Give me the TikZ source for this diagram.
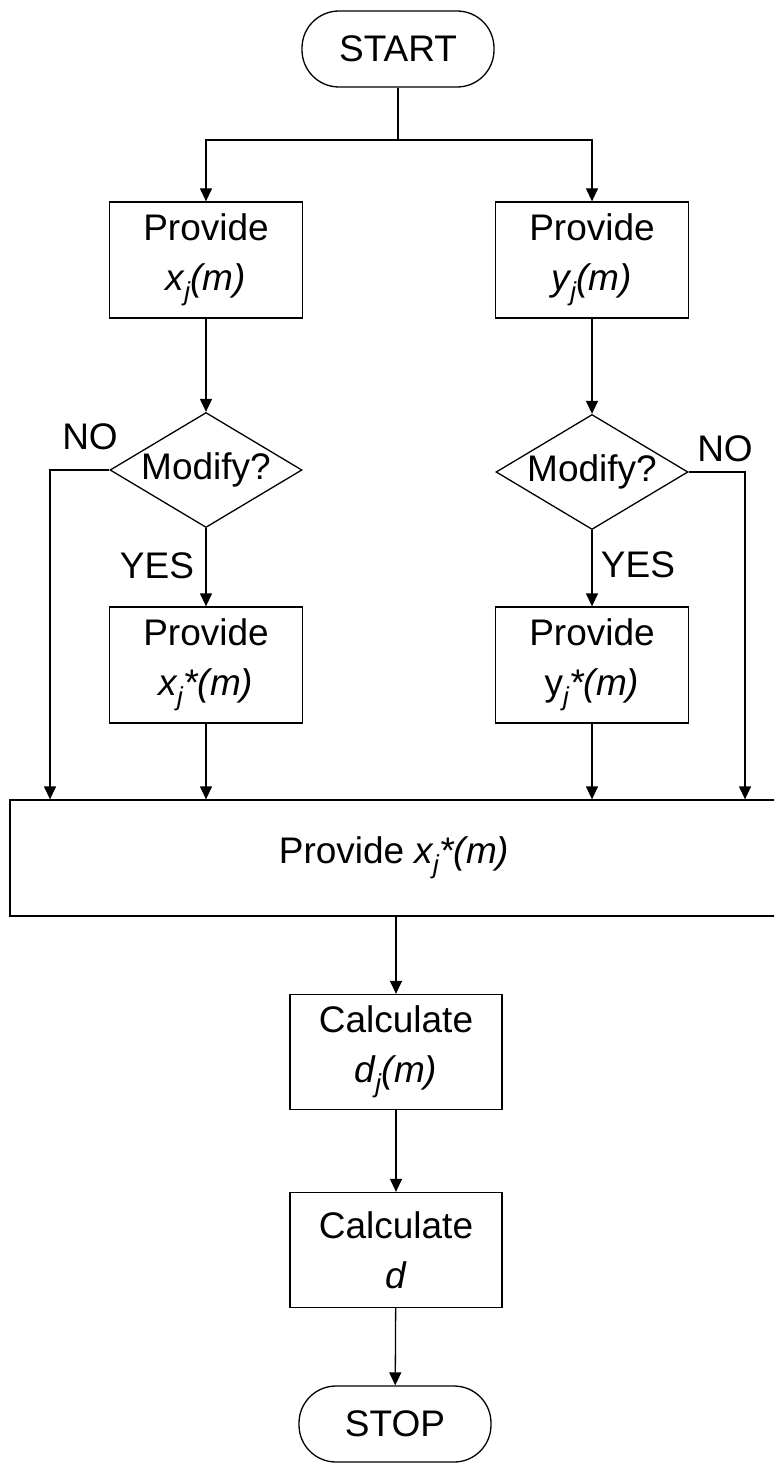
\documentclass[tikz,border=0pt]{standalone}
\usepackage{fontspec}
\setmainfont{Liberation Sans}
\usetikzlibrary{shapes.geometric,arrows.meta}

\tikzset{
    every node/.style={font=\fontsize{37}{50}\selectfont},
    terminal/.style={draw, rounded corners=37pt, minimum width=192pt, minimum height=76pt},
    procbox/.style={draw, align=center, minimum width=193pt, minimum height=116pt},
    calcbox/.style={draw, align=center, minimum width=212pt, minimum height=115pt},
    widebox/.style={draw, minimum width=768pt, minimum height=116pt},
    decision/.style={draw, diamond, inner sep=0pt, minimum width=192pt, minimum height=115pt},
}

\begin{document}
\begin{tikzpicture}[x=1pt, y=-1pt, line width=1.3pt,
        >={Triangle[length=13pt,width=12pt]}]
        \useasboundingbox (0,0) rectangle (774,1463);
        \clip (0,0) rectangle (774,1463);

        % ~~~~ Inicio ~~~~ %
        \node[terminal] (start) at (398,49) {START};
        \coordinate (split) at (398,140);

        % ~~~~ Ramas ~~~~ %
        \node[procbox] (provx) at (206,260) {Provide\\\textit{x\textsubscript{j}(m)}};
        \node[procbox] (provy) at (592,260) {Provide\\\textit{y\textsubscript{j}(m)}};
        \node[decision, label=center:Modify?] (modx) at (206,470) {};
        \node[decision, label=center:Modify?] (mody) at (592,472) {};
        \node[procbox] (provxs) at (206,665) {Provide\\\textit{x\textsubscript{j}*(m)}};
        \node[procbox] (provys) at (592,665) {Provide\\y\textsubscript{\itshape j}\textit{*(m)}};
        \node (nolx) at (90,437) {NO};
        \node (noly) at (725,449) {NO};
        \node (yesx) at (157,566) {YES};
        \node (yesy) at (638,565) {YES};
        \coordinate (nox) at (50,470);
        \coordinate (noy) at (745,472);

        % ~~~~ Final ~~~~ %
        \node[widebox] (merge) at (394,858) {Provide \textit{x\textsubscript{j}*(m)}};
        \node[calcbox] (calcdj) at (396,1052) {Calculate\\\textit{d\textsubscript{j}(m)}};
        \node[calcbox] (calcd) at (396,1250) {Calculate\\\textit{d}};
        \node[terminal] (stop) at (395,1424) {STOP};

        % ~~~~ Flechas ~~~~ %
        \draw (start) -- (split);
        \draw[->] (split) -| (provx);
        \draw[->] (split) -| (provy);
        \draw[->] (provx) -- (modx);
        \draw[->] (provy) -- (mody);
        \draw[->] (modx) -- (provxs);
        \draw[->] (mody) -- (provys);
        \draw[->] (modx.west) -- (nox) -- (nox |- merge.north);
        \draw[->] (mody.east) -- (noy) -- (noy |- merge.north);
        \draw[->] (provxs) -- (provxs |- merge.north);
        \draw[->] (provys) -- (provys |- merge.north);
        \draw[->] (calcdj |- merge.south) -- (calcdj);
        \draw[->] (calcdj) -- (calcd);
        \draw[->] (calcd) -- (stop);
    \end{tikzpicture}
\end{document}
